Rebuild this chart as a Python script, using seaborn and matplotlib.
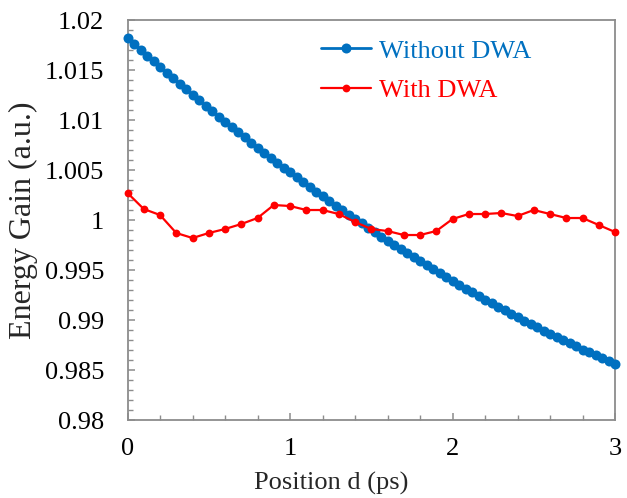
import numpy as np
import pandas as pd
import seaborn as sns
import matplotlib
matplotlib.use("Agg")
import matplotlib.pyplot as plt
from matplotlib.ticker import MultipleLocator, FuncFormatter

# ---------------- data ----------------
x_without = [0.00, 0.04, 0.08, 0.12, 0.16, 0.20, 0.24, 0.28, 0.32, 0.36,
             0.40, 0.44, 0.48, 0.52, 0.56, 0.60, 0.64, 0.68, 0.72, 0.76,
             0.80, 0.84, 0.88, 0.92, 0.96, 1.00, 1.04, 1.08, 1.12, 1.16,
             1.20, 1.24, 1.28, 1.32, 1.36, 1.40, 1.44, 1.48, 1.52, 1.56,
             1.60, 1.64, 1.68, 1.72, 1.76, 1.80, 1.84, 1.88, 1.92, 1.96,
             2.00, 2.04, 2.08, 2.12, 2.16, 2.20, 2.24, 2.28, 2.32, 2.36,
             2.40, 2.44, 2.48, 2.52, 2.56, 2.60, 2.64, 2.68, 2.72, 2.76,
             2.80, 2.84, 2.88, 2.92, 2.96, 3.00]
y_without = [1.01820, 1.01761, 1.01703, 1.01645, 1.01588, 1.01530, 1.01474, 1.01418, 1.01362, 1.01306,
             1.01251, 1.01197, 1.01143, 1.01089, 1.01035, 1.00982, 1.00930, 1.00878, 1.00826, 1.00775,
             1.00724, 1.00673, 1.00623, 1.00574, 1.00524, 1.00476, 1.00427, 1.00379, 1.00332, 1.00284,
             1.00238, 1.00191, 1.00145, 1.00100, 1.00055, 1.00010, 0.99966, 0.99922, 0.99878, 0.99835,
             0.99793, 0.99751, 0.99709, 0.99667, 0.99626, 0.99586, 0.99546, 0.99506, 0.99467, 0.99428,
             0.99389, 0.99351, 0.99313, 0.99276, 0.99239, 0.99203, 0.99167, 0.99131, 0.99096, 0.99061,
             0.99027, 0.98993, 0.98959, 0.98926, 0.98893, 0.98861, 0.98829, 0.98797, 0.98766, 0.98736,
             0.98705, 0.98676, 0.98646, 0.98617, 0.98588, 0.98560]

x_with = [0.0, 0.1, 0.2, 0.3, 0.4, 0.5, 0.6, 0.7, 0.8, 0.9,
          1.0, 1.1, 1.2, 1.3, 1.4, 1.5, 1.6, 1.7, 1.8, 1.9,
          2.0, 2.1, 2.2, 2.3, 2.4, 2.5, 2.6, 2.7, 2.8, 2.9, 3.0]
y_with = [1.0027, 1.0011, 1.0005, 0.9987, 0.9982, 0.9987, 0.9991, 0.9996, 1.0002, 1.0015,
          1.0014, 1.0010, 1.0010, 1.0006, 0.9998, 0.9991, 0.9989, 0.9985, 0.9985, 0.9989,
          1.0001, 1.0006, 1.0006, 1.0007, 1.0004, 1.0010, 1.0006, 1.0002, 1.0002, 0.9995, 0.9988]

labels = ["Without DWA", "With DWA"]
colors = ["#0070C0", "#FF0000"]
x_ticks = [0, 1, 2, 3]
x_label = "Position d (ps)"
y_label = "Energy Gain (a.u.)"

# ---------------- style ----------------
sns.set_theme(style="white")
plt.rcParams["font.family"] = ["Liberation Serif", "DejaVu Serif"]

FS = 19

fig = plt.figure(figsize=(6.27, 4.98), dpi=100)
ax = fig.add_axes([0.2034, 0.1566, 0.7775, 0.8032])

df_a = pd.DataFrame({"x": x_without, "y": y_without})
df_b = pd.DataFrame({"x": x_with, "y": y_with})

sns.lineplot(data=df_a, x="x", y="y", ax=ax, color=colors[0], marker="o",
             markersize=7.2, markeredgewidth=0, linewidth=2.0, label=labels[0],
             clip_on=False, zorder=3)
sns.lineplot(data=df_b, x="x", y="y", ax=ax, color=colors[1], marker="o",
             markersize=5.6, markeredgewidth=0, linewidth=1.6, label=labels[1],
             clip_on=False, zorder=4)

ax.set_xlim(0, 3)
ax.set_ylim(0.98, 1.02)
ax.set_xticks(x_ticks)
ax.xaxis.set_minor_locator(MultipleLocator(0.2))
ax.yaxis.set_major_locator(MultipleLocator(0.005))
ax.yaxis.set_minor_locator(MultipleLocator(0.001))
ax.yaxis.set_major_formatter(FuncFormatter(lambda v, p: f"{v:.6g}" if abs(v - 1) > 1e-9 else "1"))

spine_color = "#8C8C8C"
for s in ax.spines.values():
    s.set_color(spine_color)
    s.set_linewidth(1.3)

ax.tick_params(axis="both", which="major", direction="in", length=5, width=1.1,
               color=spine_color, labelsize=FS, labelcolor="black")
ax.tick_params(axis="both", which="minor", direction="in", length=3.5, width=1.0,
               color=spine_color)
ax.tick_params(axis="y", which="major", pad=17, left=True, right=False)
ax.tick_params(axis="y", which="minor", left=True, right=False)
ax.tick_params(axis="x", which="both", bottom=True, top=False)
ax.tick_params(axis="x", which="major", pad=13)

ax.set_xlabel(x_label, fontsize=FS)
ax.xaxis.set_label_coords(0.418, -0.158)
ax.xaxis.label.set_verticalalignment("center")
ax.set_ylabel(y_label, fontsize=23, labelpad=5)

leg = ax.legend(loc="upper left", bbox_to_anchor=(0.397, 0.952), frameon=False,
                fontsize=FS, handlelength=1.9, handletextpad=0.3,
                labelspacing=0.6, borderaxespad=0, borderpad=0)
for txt, c in zip(leg.get_texts(), colors):
    txt.set_color(c)

fig.savefig("out.png", dpi=100)
